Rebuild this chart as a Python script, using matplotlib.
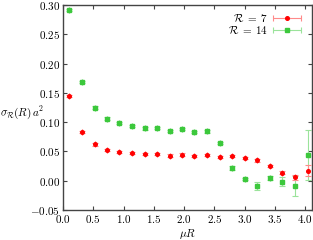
import matplotlib
matplotlib.use("Agg")
import matplotlib.pyplot as plt
from matplotlib.legend_handler import HandlerErrorbar
from matplotlib.container import ErrorbarContainer

plt.rcParams["font.family"] = "serif"
plt.rcParams["font.serif"] = ["cmr10"]
plt.rcParams["mathtext.fontset"] = "cm"
plt.rcParams["axes.formatter.use_mathtext"] = True
plt.rcParams["font.size"] = 8

# mu*R values (same for both series)
mu_R = [0.10, 0.31, 0.52, 0.72, 0.93, 1.14, 1.35, 1.55, 1.76, 1.97,
        2.17, 2.38, 2.59, 2.79, 3.00, 3.21, 3.41, 3.62, 3.83, 4.04]

sigma_R7 = [0.1446, 0.0832, 0.0621, 0.0530, 0.0490, 0.0473, 0.0451, 0.0451,
            0.0428, 0.0445, 0.0417, 0.0434, 0.0405, 0.0422, 0.0388, 0.0348,
            0.0251, 0.0137, 0.0058, 0.0166]
err_R7 = [0.002, 0.002, 0.002, 0.002, 0.002, 0.002, 0.002, 0.002, 0.002, 0.002,
          0.002, 0.002, 0.002, 0.002, 0.002, 0.002, 0.002, 0.003, 0.004, 0.0094]

sigma_R14 = [0.291, 0.168, 0.125, 0.106, 0.0985, 0.0934, 0.0894, 0.0905,
             0.0854, 0.0883, 0.0832, 0.0843, 0.0649, 0.0217, 0.0024, -0.009,
             0.0046, -0.0017, -0.0085, 0.0439]
err_R14 = [0.002, 0.002, 0.002, 0.002, 0.002, 0.002, 0.002, 0.002, 0.002, 0.002,
           0.002, 0.002, 0.002, 0.004, 0.002, 0.0066, 0.004, 0.008, 0.017, 0.042]

labels = [r"$\mathcal{R}\;=\;7$", r"$\mathcal{R}\;=\;14$"]

fig = plt.figure(figsize=(3.13, 2.40), dpi=100)
ax = fig.add_axes([63 / 313, 30 / 240, 249 / 313, 205 / 240])

ax.errorbar(mu_R, sigma_R7, yerr=err_R7, xerr=0, fmt="o", color="#ff0000",
            ms=2.6, ecolor="#ff8a8a", elinewidth=0.8, capsize=2, capthick=0.8,
            label=labels[0], zorder=3)
ax.errorbar(mu_R, sigma_R14, yerr=err_R14, xerr=0, fmt="s", color="#3cc83c",
            ms=3.4, ecolor="#9be39b", elinewidth=0.8, capsize=2, capthick=0.8,
            label=labels[1], zorder=2)

ax.set_xlim(0, 4.11)
ax.set_ylim(-0.05, 0.30)
ax.set_xticks([0.0, 0.5, 1.0, 1.5, 2.0, 2.5, 3.0, 3.5, 4.0])
ax.set_yticks([-0.05, 0.00, 0.05, 0.10, 0.15, 0.20, 0.25, 0.30])
ax.xaxis.set_major_formatter(plt.FuncFormatter(lambda v, p: rf"${v:.1f}$"))
ax.yaxis.set_major_formatter(plt.FuncFormatter(lambda v, p: rf"${v:.2f}$"))
ax.tick_params(direction="in", top=True, right=True, length=3, width=0.8,
               labelsize=8, pad=2, color="#444444")
for s in ax.spines.values():
    s.set_color("#444444")
    s.set_linewidth(1.0)

ax.set_xlabel(r"$\mu R$", fontsize=8, labelpad=1.5)
ax.set_ylabel(r"$\sigma_{\mathcal{R}}(R)\,a^2$", fontsize=8, rotation=0, ha="left", va="center")
ax.yaxis.set_label_coords(-0.253, 0.475)

ax.legend(loc="upper right", frameon=False, markerfirst=False, fontsize=8,
          handlelength=2.5, labelspacing=-0.05, borderaxespad=0.25, handletextpad=0.5,
          bbox_to_anchor=(0.985, 1.0),
          handler_map={ErrorbarContainer: HandlerErrorbar(xerr_size=1.25, yerr_size=0.001)})

fig.savefig("out.png", dpi=100)
